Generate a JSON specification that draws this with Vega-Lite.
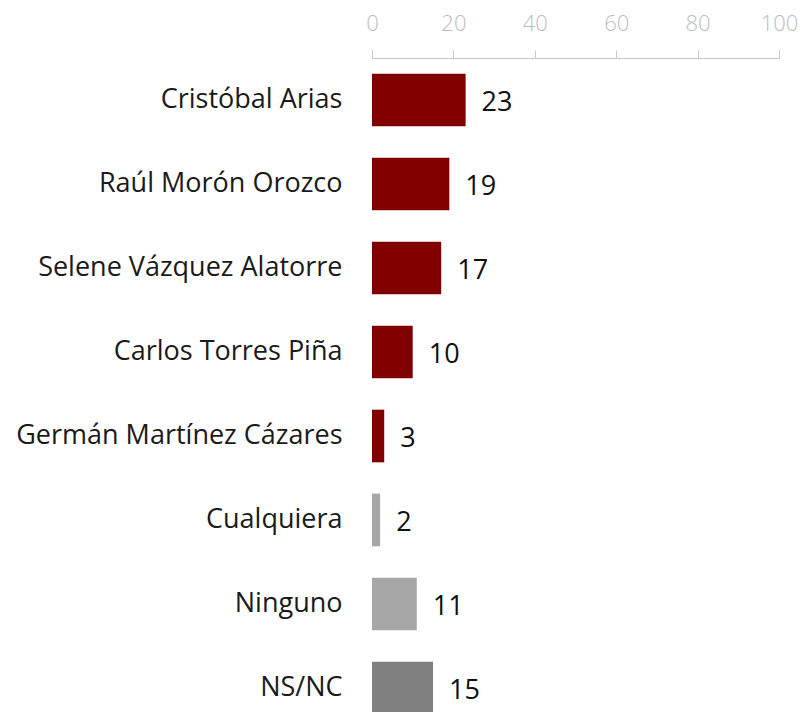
{
  "$schema": "https://vega.github.io/schema/vega-lite/v6.json",
  "autosize": "none",
  "width": 407,
  "height": 672,
  "padding": {"left": 372, "top": 58, "right": 21, "bottom": 0},
  "background": "white",
  "config": {"view": {"stroke": null}},
  "data": {
    "values": [
      {"nombre": "Cristóbal Arias", "valor": 23, "grupo": "candidato"},
      {"nombre": "Raúl Morón Orozco", "valor": 19, "grupo": "candidato"},
      {"nombre": "Selene Vázquez Alatorre", "valor": 17, "grupo": "candidato"},
      {"nombre": "Carlos Torres Piña", "valor": 10, "grupo": "candidato"},
      {"nombre": "Germán Martínez Cázares", "valor": 3, "grupo": "candidato"},
      {"nombre": "Cualquiera", "valor": 2, "grupo": "otro"},
      {"nombre": "Ninguno", "valor": 11, "grupo": "otro"},
      {"nombre": "NS/NC", "valor": 15, "grupo": "nsnc"}
    ]
  },
  "encoding": {
    "y": {
      "field": "nombre",
      "type": "nominal",
      "sort": null,
      "scale": {"paddingInner": 0.373, "paddingOuter": 0.187},
      "axis": {
        "title": null,
        "domain": false,
        "ticks": false,
        "labelPadding": 30,
        "labelFont": "Open Sans",
        "labelFontSize": 27,
        "labelColor": "#1a1a1a",
        "labelLimit": 400
      }
    },
    "x": {
      "field": "valor",
      "type": "quantitative",
      "scale": {"domain": [0, 100], "nice": false},
      "axis": {
        "orient": "top",
        "title": null,
        "values": [0, 20, 40, 60, 80, 100],
        "grid": false,
        "domainColor": "#c8c8c8",
        "tickColor": "#c8c8c8",
        "tickSize": 8,
        "labelFont": "Open Sans",
        "labelFontSize": 22,
        "labelFontWeight": 300,
        "labelColor": "#bdbdbd",
        "labelPadding": 15,
        "labelFlush": false
      }
    }
  },
  "layer": [
    {
      "mark": {"type": "bar"},
      "encoding": {
        "color": {
          "field": "grupo",
          "type": "nominal",
          "scale": {"domain": ["candidato", "otro", "nsnc"], "range": ["#800000", "#a6a6a6", "#808080"]},
          "legend": null
        }
      }
    },
    {
      "mark": {"type": "text", "align": "left", "baseline": "middle", "dx": 16, "dy": 3, "font": "Open Sans", "fontSize": 27, "color": "#111111"},
      "encoding": {"text": {"field": "valor", "type": "quantitative"}}
    }
  ]
}
